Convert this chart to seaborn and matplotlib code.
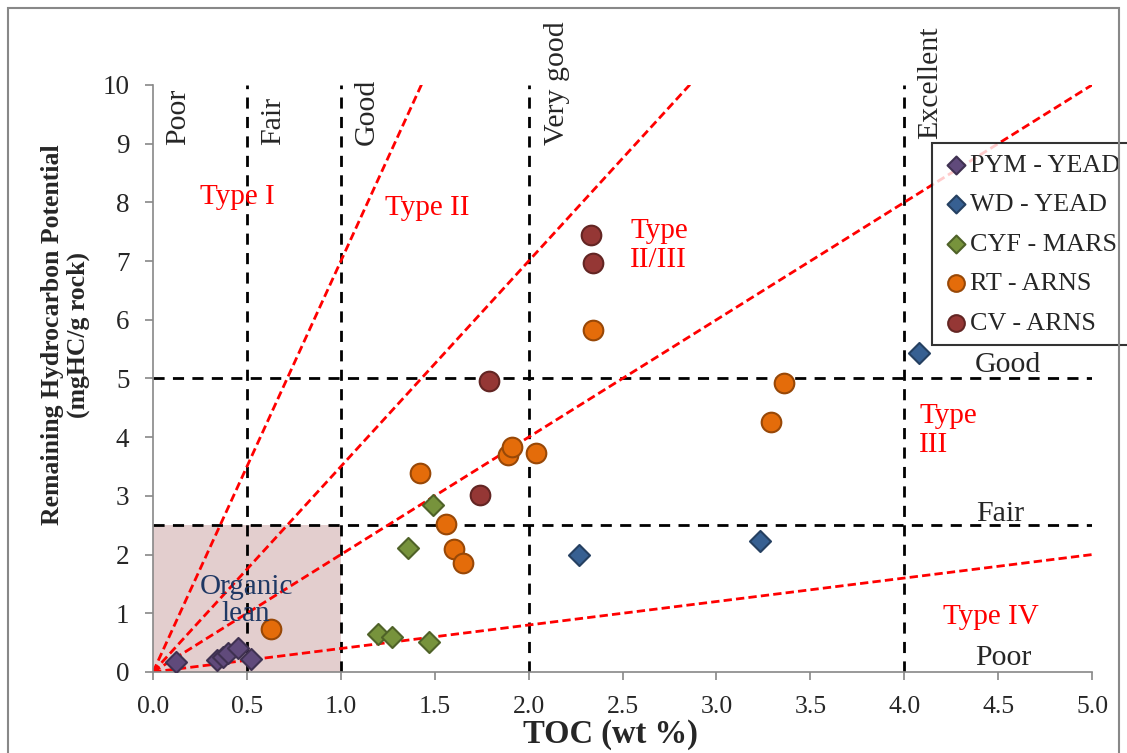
import matplotlib
matplotlib.use('Agg')
import matplotlib.pyplot as plt
from matplotlib.patches import Rectangle
import seaborn as sns
import pandas as pd

# sample groups: TOC (wt %) and S2 (mgHC/g rock)
pym_toc = [0.12, 0.34, 0.37, 0.40, 0.45, 0.52]
pym_s2 = [0.17, 0.20, 0.26, 0.32, 0.40, 0.22]
wd_toc = [2.27, 3.23, 4.08]
wd_s2 = [1.99, 2.23, 5.43]
cyf_toc = [1.49, 1.36, 1.20, 1.27, 1.47]
cyf_s2 = [2.85, 2.11, 0.65, 0.59, 0.51]
rt_toc = [0.63, 1.42, 1.56, 1.60, 1.65, 1.89, 1.91, 2.04, 2.34, 3.36, 3.29]
rt_s2 = [0.73, 3.39, 2.52, 2.09, 1.85, 3.70, 3.84, 3.73, 5.83, 4.92, 4.25]
cv_toc = [2.33, 2.34, 1.79, 1.74]
cv_s2 = [7.44, 6.97, 4.96, 3.02]

groups = ['PYM - YEAD', 'WD - YEAD', 'CYF - MARS', 'RT - ARNS', 'CV - ARNS']
face_colors = ['#604A7B', '#376092', '#77933C', '#E46C0A', '#953735']
edge_colors = ['#3F3151', '#254061', '#4F6228', '#984807', '#632523']
markers = ['D', 'D', 'D', 'o', 'o']

# kerogen type boundaries (HI, mgHC/gTOC)
hi_lines = [700, 350, 200, 40]
toc_limits = [0.5, 1.0, 2.0, 4.0]
s2_limits = [2.5, 5.0]

df = pd.concat([
    pd.DataFrame({'toc': t, 's2': s, 'group': g})
    for t, s, g in zip([pym_toc, wd_toc, cyf_toc, rt_toc, cv_toc],
                       [pym_s2, wd_s2, cyf_s2, rt_s2, cv_s2], groups)
])

sns.set_style('white')
plt.rcParams['font.family'] = ['Liberation Serif', 'DejaVu Serif']

fig = plt.figure(figsize=(11.27, 7.53), dpi=100)
ax = fig.add_axes([0.1358, 0.1076, 0.8332, 0.7796])

# organic lean box
ax.add_patch(Rectangle((0, 0), 1.0, 2.5, facecolor='#E3CECE', edgecolor='none', zorder=0))

for v in toc_limits:
    ax.plot([v, v], [0, 10], color='black', lw=2, ls=(0, (4, 3)), zorder=1)
for h in s2_limits:
    ax.plot([0, 5], [h, h], color='black', lw=2, ls=(0, (4, 3)), zorder=1)
for hi in hi_lines:
    ax.plot([0, 5], [0, 5 * hi / 100], color='red', lw=2, ls=(0, (3, 1.5)), zorder=2)

for g, fc, ec, m in zip(groups, face_colors, edge_colors, markers):
    sub = df[df['group'] == g]
    sns.scatterplot(data=sub, x='toc', y='s2', marker=m, color=fc, edgecolor=ec,
                    linewidth=1.5, s=115 if m == 'D' else 200, label=g, ax=ax, zorder=3)

ax.set_xlim(0, 5)
ax.set_ylim(0, 10)
ax.set_xticks([i * 0.5 for i in range(11)])
ax.set_xticklabels([f'{i * 0.5:.1f}' for i in range(11)])
ax.set_yticks(range(11))
ax.tick_params(axis='both', direction='out', length=6, color='#888888', pad=11,
               bottom=True, left=True, width=1.2)
ax.tick_params(axis='x', labelsize=18.5)
ax.tick_params(axis='y', labelsize=19.5)
for side in ['top', 'right']:
    ax.spines[side].set_visible(False)
for side in ['left', 'bottom']:
    ax.spines[side].set_color('#888888')
    ax.spines[side].set_linewidth(1.2)
ax.set_xlabel('')
ax.set_ylabel('')

# richness labels
for x, y, t in [(0.135, 8.98, 'Poor'), (0.64, 8.98, 'Fair'), (1.14, 8.98, 'Good'),
                (2.15, 8.98, 'Very good'), (4.14, 9.08, 'Excellent')]:
    ax.text(x, y, t, rotation=90, ha='center', va='bottom', fontsize=21.5, clip_on=False)
for x, y, t in [(4.55, 5.23, 'Good'), (4.51, 2.69, 'Fair'), (4.53, 0.24, 'Poor')]:
    ax.text(x, y, t, ha='center', va='center', fontsize=21.5)

# kerogen type labels
ax.text(0.45, 8.09, 'Type I', color='red', ha='center', va='center', fontsize=21)
ax.text(1.46, 7.9, 'Type II', color='red', ha='center', va='center', fontsize=21)
ax.text(2.54, 7.27, 'Type\nII/III', color='red', ha='left', va='center', fontsize=21,
        linespacing=1.15)
ax.text(4.08, 4.12, 'Type\nIII', color='red', ha='left', va='center', fontsize=21,
        linespacing=1.15)
ax.text(4.46, 0.94, 'Type IV', color='red', ha='center', va='center', fontsize=21)
ax.text(0.495, 1.22, 'Organic\nlean', color='#1F3864', ha='center', va='center',
        fontsize=21, linespacing=1.05)

leg = ax.legend(loc='upper left', bbox_to_anchor=(0.83, 0.901), fontsize=18.8,
                frameon=True, fancybox=False, edgecolor='black', handletextpad=0.05,
                borderpad=0.4, labelspacing=0.62, handlelength=1.0, borderaxespad=0,
                markerscale=0.85)
leg.get_frame().set_linewidth(1.5)

fig.text(0.542, 0.025, 'TOC (wt %)', ha='center', va='center', fontsize=23.5,
         fontweight='bold')
fig.text(0.0585, 0.555, 'Remaining Hydrocarbon Potential\n(mgHC/g rock)', rotation=90,
         ha='center', va='center', fontsize=18.5, fontweight='bold', linespacing=1.15)

fig.patches.append(Rectangle((8 / 1127, -0.05), 1111 / 1127, 1 + 0.05 - 8 / 753,
                             transform=fig.transFigure, fill=False, edgecolor='#888888',
                             lw=1.5, figure=fig))

fig.savefig('out.png', dpi=100)
